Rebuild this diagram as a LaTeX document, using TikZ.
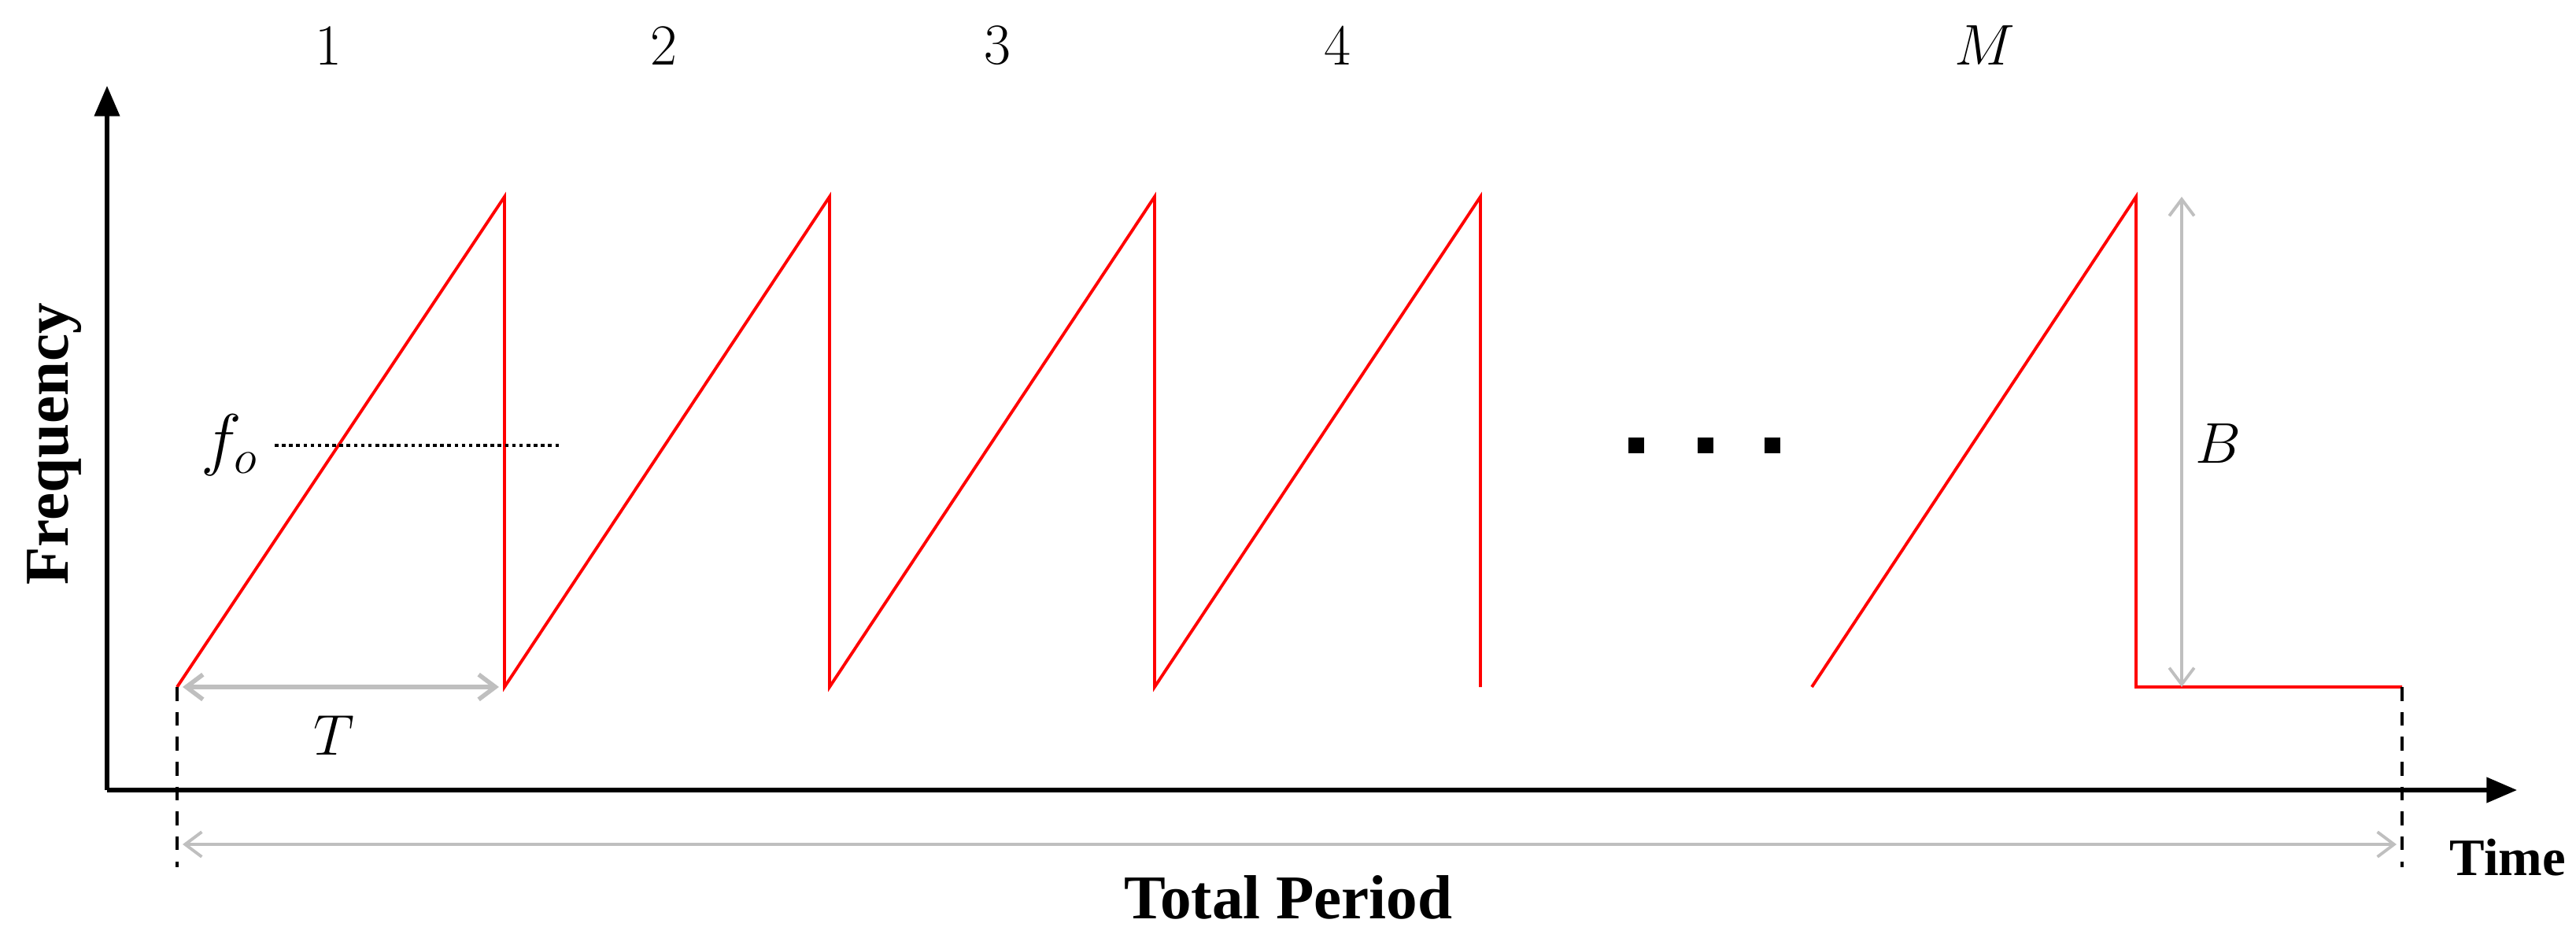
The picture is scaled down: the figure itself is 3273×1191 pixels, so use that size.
\documentclass[tikz,border=0pt]{standalone}
\usepackage{fontspec}
\newfontfamily\tnr{Liberation Serif}
\usetikzlibrary{arrows.meta}
\begin{document}
\begin{tikzpicture}[x=0.01cm,y=-0.01cm,
  axis/.style={line width=1.5pt, -{Triangle[length=11pt,width=9pt]}},
  ramp/.style={red, line width=1.1pt, line join=miter},
  dimarrow/.style={draw=black!25, line width=1.3pt, {Straight Barb[length=6pt,width=9pt]}-{Straight Barb[length=6pt,width=9pt]}},
  guide/.style={line width=1.1pt, dash pattern=on 5pt off 4pt},
  lbl/.style={font=\fontsize{21}{25}\selectfont, inner sep=0pt},
  blbl/.style={font=\tnr\bfseries\fontsize{22.5}{27}\selectfont, inner sep=0pt},
  dotsq/.style={fill=black, rectangle, minimum size=0.2cm, inner sep=0pt}]
\useasboundingbox (0,0) rectangle (3273,1191);
% axes
\coordinate (o) at (136,1004);
\coordinate (ytip) at (136,109);
\coordinate (xtip) at (3198,1004);
\draw[axis] (o) -- (ytip);
\draw[axis] (o) -- (xtip);
% ramp points
\coordinate (p0) at (225,873);
\coordinate (q1) at (641,250); \coordinate (b1) at (641,873);
\coordinate (q2) at (1054,250); \coordinate (b2) at (1054,873);
\coordinate (q3) at (1467,250); \coordinate (b3) at (1467,873);
\coordinate (q4) at (1881,250); \coordinate (b4) at (1881,873);
\coordinate (pM) at (2302,873);
\coordinate (qM) at (2714,250); \coordinate (bM) at (2714,873);
\coordinate (e) at (3052,873);
\draw[ramp] (p0) -- (q1) -- (b1) -- (q2) -- (b2) -- (q3) -- (b3) -- (q4) -- (b4);
\draw[ramp] (pM) -- (qM) -- (bM) -- (e);
% dashed guides
\coordinate (g0) at (225,1102);
\coordinate (g1) at (3052,1102);
\draw[guide] (p0) -- (g0);
\draw[guide] (e) -- (g1);
% f_o
\node[lbl, font=\fontsize{23}{27}\selectfont] (fo) at (292,566) {$f_o$};
\coordinate (fs) at (349,566);
\coordinate (fe) at (712,566);
\draw[line width=1.2pt, dash pattern=on 1.3pt off 1.3pt] (fs) -- (fe);
% dimension arrows
\draw[dimarrow, line width=1.6pt] ([xshift=2pt]p0) -- ([xshift=-2pt]b1);
\node[lbl] (T) at (424,935) {$T$};
\coordinate (Btop) at (2772,250);
\coordinate (Bbot) at (2772,873);
\draw[dimarrow, line width=1.1pt] (Btop) -- (Bbot);
\node[lbl] (B) at (2818,564) {$B$};
\coordinate (tp0) at (225,1073);
\coordinate (tp1) at (3052,1073);
\draw[dimarrow, line width=1.1pt] ([xshift=2pt]tp0) -- ([xshift=-2pt]tp1);
% chirp indices
\node[lbl] (n1) at (417,58) {1};
\node[lbl] (n2) at (843,58) {2};
\node[lbl] (n3) at (1267,58) {3};
\node[lbl] (n4) at (1699,58) {4};
\node[lbl] (nM) at (2522,58) {$M$};
% dots
\node[dotsq] (d1) at (2079,566) {};
\node[dotsq] (d2) at (2167,566) {};
\node[dotsq] (d3) at (2252,566) {};
% axis labels
\node[blbl, rotate=90] (freq) at (69,564) {Frequency};
\node[blbl, font=\tnr\bfseries\fontsize{19}{23}\selectfont, anchor=west] (time) at (3112,1090) {Time};
\node[blbl] (total) at (1637,1140) {Total Period};
\end{tikzpicture}
\end{document}
